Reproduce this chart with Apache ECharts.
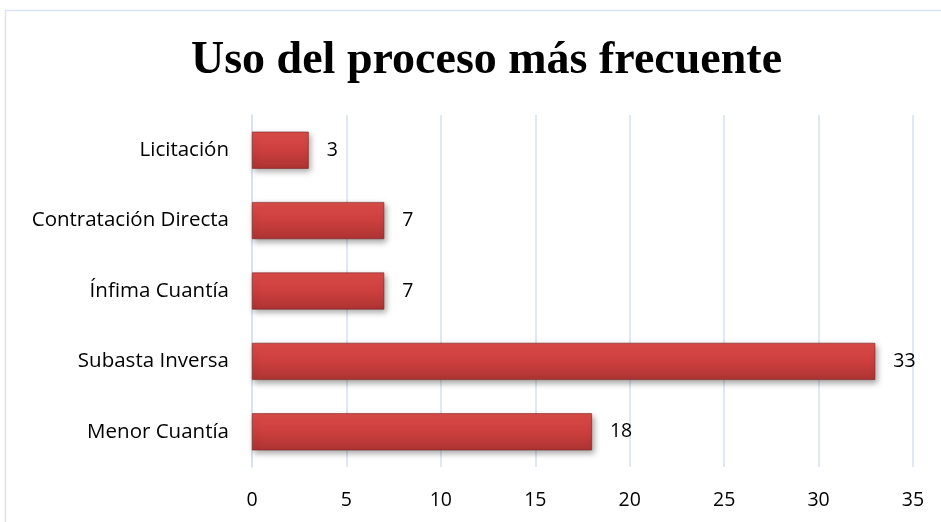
<!DOCTYPE html>
<html>
<head>
<meta charset="utf-8">
<script src="https://cdn.jsdelivr.net/npm/echarts@6/dist/echarts.min.js"></script>
<style>
  html, body { margin: 0; padding: 0; background: #fff; }
  #chart { width: 941px; height: 522px; }
</style>
</head>
<body>
<div id="chart"></div>
<script>
// Categories listed bottom-to-top (category axis starts at the bottom)
const categories = ['Menor Cuantía', 'Subasta Inversa', 'Ínfima Cuantía', 'Contratación Directa', 'Licitación'];
const values = [18, 33, 7, 7, 3];
const xTicks = [0, 5, 10, 15, 20, 25, 30, 35];

const chart = echarts.init(document.getElementById('chart'));
const labelFont = '"Open Sans", "Noto Sans", sans-serif';

chart.setOption({
  animation: false,
  backgroundColor: '#ffffff',
  graphic: [{
    type: 'rect',
    shape: { x: 5.5, y: 10.5, width: 940, height: 520 },
    style: { fill: 'none', stroke: '#d9e3f1', lineWidth: 1.5 },
    silent: true
  }],
  title: {
    text: 'Uso del proceso más frecuente',
    left: 186,
    top: 33,
    textStyle: {
      fontFamily: '"Liberation Serif", "DejaVu Serif", serif',
      fontWeight: 'bold',
      fontSize: 46,
      color: '#000000'
    }
  },
  grid: { left: 252, right: 28, top: 115, bottom: 55, containLabel: false },
  xAxis: {
    type: 'value',
    min: xTicks[0],
    max: xTicks[xTicks.length - 1],
    interval: 5,
    axisLine: { show: false },
    axisTick: { show: false },
    axisLabel: {
      color: '#000',
      fontFamily: labelFont,
      fontSize: 19.5,
      margin: 23
    },
    splitLine: { show: true, lineStyle: { color: '#d6e1f0', width: 1.5 } }
  },
  yAxis: {
    type: 'category',
    data: categories,
    axisLine: { show: true, lineStyle: { color: '#d6e1f0', width: 1.5 } },
    axisTick: { show: false },
    axisLabel: {
      color: '#000',
      fontFamily: labelFont,
      fontSize: 20.5,
      margin: 23
    }
  },
  series: [{
    type: 'bar',
    data: values,
    barWidth: 37,
    itemStyle: {
      color: new echarts.graphic.LinearGradient(0, 0, 0, 1, [
        { offset: 0, color: '#dc4b49' },
        { offset: 0.5, color: '#cc3f3e' },
        { offset: 1, color: '#ad3432' }
      ]),
      borderColor: '#7a1f1e',
      borderWidth: 0.6,
      shadowColor: 'rgba(0,0,0,0.35)',
      shadowBlur: 6,
      shadowOffsetX: 2,
      shadowOffsetY: 3
    },
    label: {
      show: true,
      position: 'right',
      distance: 18,
      color: '#000',
      fontFamily: labelFont,
      fontSize: 19.5
    }
  }]
});
</script>
</body>
</html>
